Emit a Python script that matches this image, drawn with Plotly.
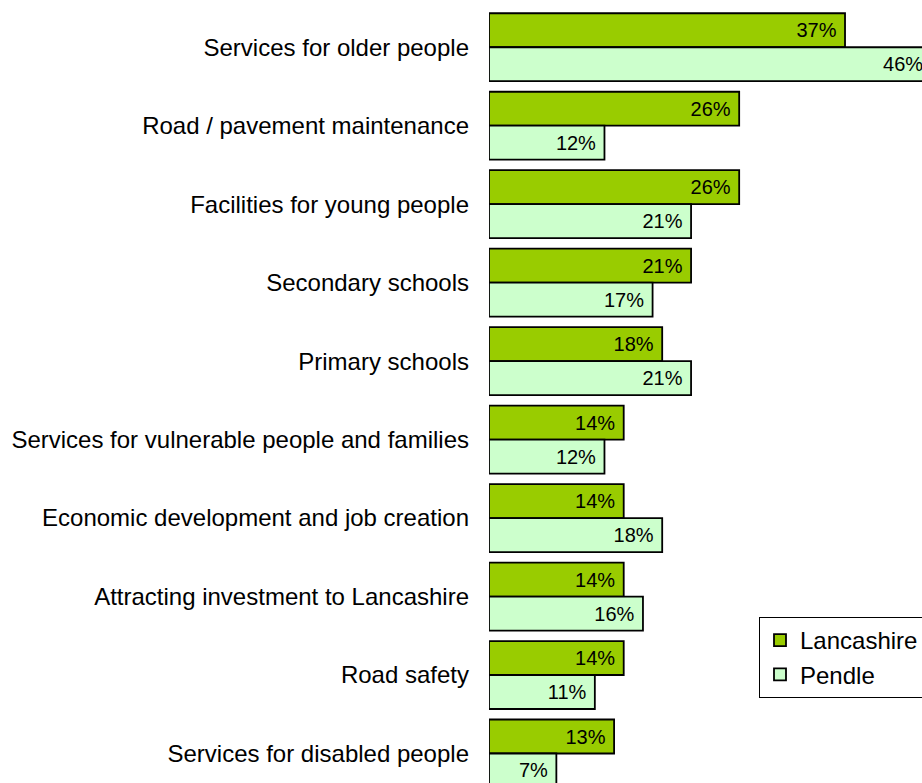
import plotly.graph_objects as go

categories = [
    "Services for older people",
    "Road / pavement maintenance",
    "Facilities for young people",
    "Secondary schools",
    "Primary schools",
    "Services for vulnerable people and families",
    "Economic development and job creation",
    "Attracting investment to Lancashire",
    "Road safety",
    "Services for disabled people",
]
lancashire = [37, 26, 26, 21, 18, 14, 14, 14, 14, 13]
pendle = [46, 12, 21, 17, 21, 12, 18, 16, 11, 7]

FONT = "Liberation Sans, Arial, sans-serif"

fig = go.Figure()
for name, vals, color in [("Lancashire", lancashire, "#99CC00"), ("Pendle", pendle, "#CCFFCC")]:
    fig.add_trace(go.Bar(
        name=name, y=categories, x=vals, orientation="h",
        marker=dict(color=color, line=dict(color="black", width=1.8)),
        texttemplate="%{x}%\u00a0", textposition="inside", insidetextanchor="end",
        textangle=0, constraintext="none",
        textfont=dict(family=FONT, size=20, color="black"),
    ))

fig.update_layout(
    width=922, height=783,
    margin=dict(l=489, r=0, t=8, b=0, autoexpand=False),
    paper_bgcolor="white", plot_bgcolor="white",
    barmode="group", bargap=0.134, bargroupgap=0,
    font=dict(family=FONT, size=24, color="black"),
    showlegend=True,
    legend=dict(
        x=(759 - 489) / 433, y=(783 - 617) / 775, xanchor="left", yanchor="top",
        bordercolor="black", borderwidth=1, bgcolor="white",
        font=dict(family=FONT, size=24, color="black"),
        traceorder="normal", itemwidth=30,
    ),
    xaxis=dict(range=[0, 45], visible=False, showgrid=False, zeroline=False),
    yaxis=dict(type="category", range=[9.376, -0.5], showgrid=False, zeroline=False,
               showline=False, ticks="", ticklabelstandoff=19,
               tickfont=dict(family=FONT, size=24, color="black")),
)

fig.write_html(
    "out.html",
    config={"displayModeBar": False},
    post_script="document.body.style.margin='0';document.body.style.overflow='hidden';",
)
